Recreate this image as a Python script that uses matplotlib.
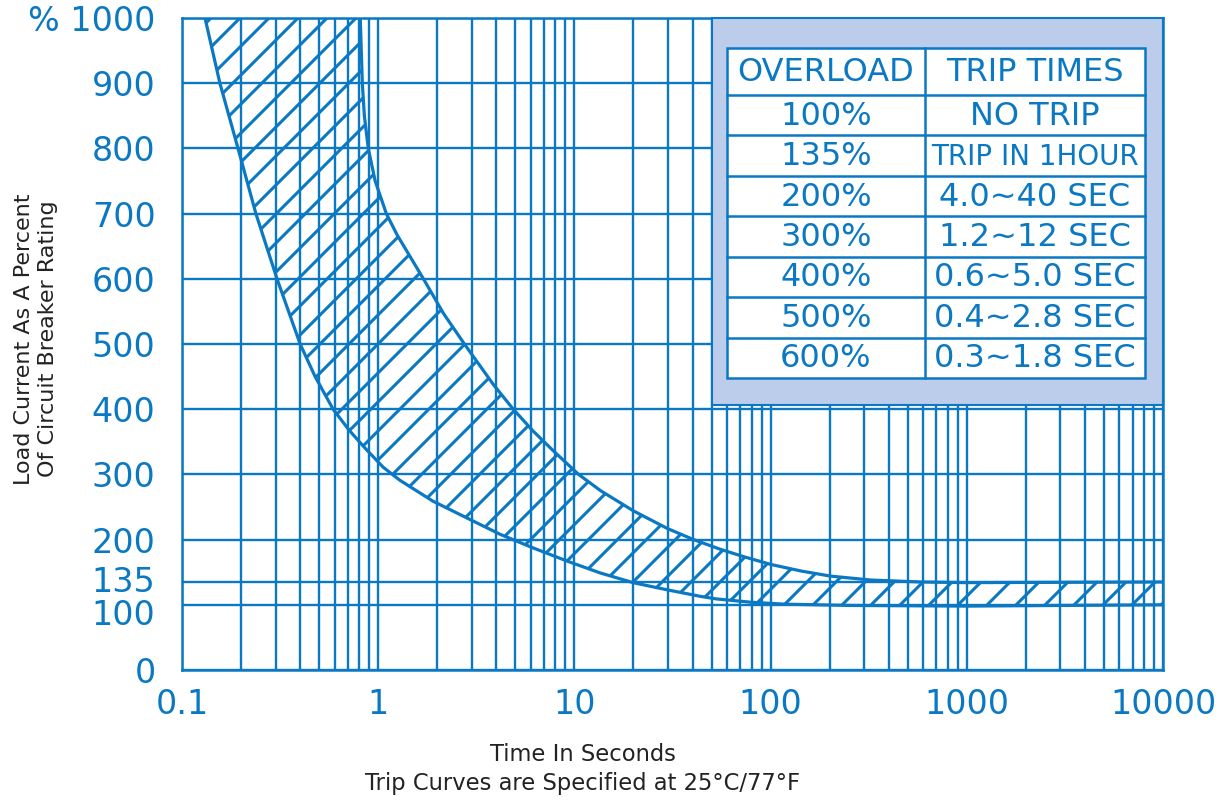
import matplotlib
matplotlib.use("Agg")
import matplotlib.pyplot as plt
import matplotlib.ticker as mticker
import matplotlib.transforms as mtransforms
from matplotlib.patches import Polygon, Rectangle
from matplotlib.collections import LineCollection
import numpy as np

# Trip band: time in seconds vs load in percent
lower_time = [0.131, 0.156, 0.193, 0.238, 0.305, 0.40, 0.477, 0.589, 0.71, 0.847,
              1.06, 1.29, 1.9, 2.84, 4.19, 6.19, 9.19, 13.5, 19.9, 29.7, 43.8, 53,
              79, 117, 256, 1000, 3000, 10000]
lower_pct = [1000, 900, 800, 700, 600, 500, 450, 400, 368, 342,
             311, 291, 259, 233, 208, 187, 167, 149, 134, 123, 113, 109,
             104, 101, 99, 98, 99, 100]
upper_time = [0.81, 0.83, 0.85, 0.89, 0.965, 1.10, 1.25, 1.70, 2.15, 2.75, 3.86,
              4.88, 6.18, 7.82, 10.5, 13.6, 20.0, 29.8, 40.5, 55.6, 74.5, 100,
              142, 202, 324, 582, 1000, 10000]
upper_pct = [1000, 900, 850, 800, 750, 700, 667, 600, 547, 500, 438,
             400, 366, 336, 300, 275, 244, 217, 200, 185, 173, 162,
             152, 144, 138, 135, 134, 135]

y_ticks = [0, 100, 135, 200, 300, 400, 500, 600, 700, 800, 900, 1000]
y_labels = ['0', '100', '135', '200', '300', '400', '500', '600', '700', '800', '900', '% 1000']
x_ticks = [0.1, 1, 10, 100, 1000, 10000]
x_labels = ['0.1', '1', '10', '100', '1000', '10000']

overload = ['OVERLOAD', '100%', '135%', '200%', '300%', '400%', '500%', '600%']
trip_times = ['TRIP TIMES', 'NO TRIP', 'TRIP IN 1HOUR', '4.0~40 SEC', '1.2~12 SEC',
              '0.6~5.0 SEC', '0.4~2.8 SEC', '0.3~1.8 SEC']

BLUE = '#0a78c3'
PALE = '#bccdeb'
W, H = 1231, 800
L, R, T, B = 182, 1163, 18, 670


def ax_x(px):
    return (px - L) / (R - L)


def ax_y(py):
    return (B - py) / (B - T)


fig = plt.figure(figsize=(W / 100, H / 100), dpi=100)
ax = fig.add_axes([L / W, 1 - B / H, (R - L) / W, (B - T) / H])
ax.set_xscale('log')

# grid
ax.set_axisbelow(True)
ax.xaxis.set_minor_locator(mticker.LogLocator(base=10, subs=np.arange(2, 10)))
ax.xaxis.set_minor_formatter(mticker.NullFormatter())
ax.grid(True, which='both', axis='x', color=BLUE, lw=1.7)
ax.grid(True, which='major', axis='y', color=BLUE, lw=1.7)
for sp in ax.spines.values():
    sp.set_color(BLUE)
    sp.set_linewidth(1.8)

ax.set_xticks(x_ticks)
ax.set_xticklabels(x_labels)
ax.set_yticks(y_ticks)
ax.set_yticklabels(y_labels)
ax.tick_params(axis='both', which='both', length=0, labelcolor=BLUE, labelsize=24)
ax.tick_params(axis='y', pad=19)
ax.tick_params(axis='x', pad=13)

# the 135 / 100 labels sit close together, nudge them apart like the original
for lab in ax.get_yticklabels():
    shift = {'135': 3, '100': -7}.get(lab.get_text(), 0)
    if shift:
        lab.set_transform(lab.get_transform() +
                          mtransforms.ScaledTranslation(0, shift / 100, fig.dpi_scale_trans))

# band outline + hatching
band = Polygon(list(zip(lower_time, lower_pct)) + list(zip(upper_time[::-1], upper_pct[::-1])),
               closed=True, fill=False, edgecolor='none')
ax.add_patch(band)
ax.plot(lower_time, lower_pct, color=BLUE, lw=2.3, zorder=3, solid_joinstyle='round')
ax.plot(upper_time, upper_pct, color=BLUE, lw=2.3, zorder=3, solid_joinstyle='round')

rise = (B - T) / (R - L)       # 45 degree on screen
step = 29 / (R - L)
segs = [[(x0, 0), (x0 + rise, 1)] for x0 in np.arange(-rise, 1.0, step)]
hatch = LineCollection(segs, colors=BLUE, linewidths=2.2, transform=ax.transAxes, zorder=3)
ax.add_collection(hatch, autolim=False)
hatch.set_clip_path(band)

ax.set_xlim(0.1, 10000)
ax.set_ylim(0, 1000)

# table box
ax.add_patch(Rectangle((ax_x(712), ax_y(405)), 1 - ax_x(712), 1 - ax_y(405),
                       transform=ax.transAxes, facecolor=PALE, edgecolor=BLUE,
                       lw=1.5, zorder=4, clip_on=False))
tx0, tx1, tx2 = 727, 925, 1145
row_edges = [48, 95] + [95 + (378 - 95) * k / 7 for k in range(1, 8)]
ax.add_patch(Rectangle((ax_x(tx0), ax_y(row_edges[-1])), ax_x(tx2) - ax_x(tx0),
                       ax_y(row_edges[0]) - ax_y(row_edges[-1]),
                       transform=ax.transAxes, facecolor='white', edgecolor=BLUE,
                       lw=1.8, zorder=5))
for yy in row_edges[1:-1]:
    ax.plot([ax_x(tx0), ax_x(tx2)], [ax_y(yy), ax_y(yy)], color=BLUE, lw=1.8,
            transform=ax.transAxes, zorder=6)
ax.plot([ax_x(tx1), ax_x(tx1)], [ax_y(row_edges[0]), ax_y(row_edges[-1])], color=BLUE,
        lw=1.8, transform=ax.transAxes, zorder=6)

for i, (a, b) in enumerate(zip(overload, trip_times)):
    yc = ax_y((row_edges[i] + row_edges[i + 1]) / 2 + 1)
    ax.text(ax_x((tx0 + tx1) / 2), yc, a, transform=ax.transAxes, ha='center', va='center',
            color=BLUE, fontsize=23, zorder=7)
    fs = 20 if len(b) > 11 else 23
    ax.text(ax_x((tx1 + tx2) / 2), yc, b, transform=ax.transAxes, ha='center', va='center',
            color=BLUE, fontsize=fs, zorder=7)

# axis titles
fig.text(583 / W, 1 - 769 / H, 'Time In Seconds\nTrip Curves are Specified at 25°C/77°F',
         ha='center', va='center', fontsize=16.3, linespacing=1.35, color='#222222')
fig.text(36 / W, 1 - 339 / H, 'Load Current As A Percent\nOf Circuit Breaker Rating',
         rotation=90, ha='center', va='center', fontsize=16, linespacing=1.2, color='#222222')

fig.savefig('out.png', dpi=100)
